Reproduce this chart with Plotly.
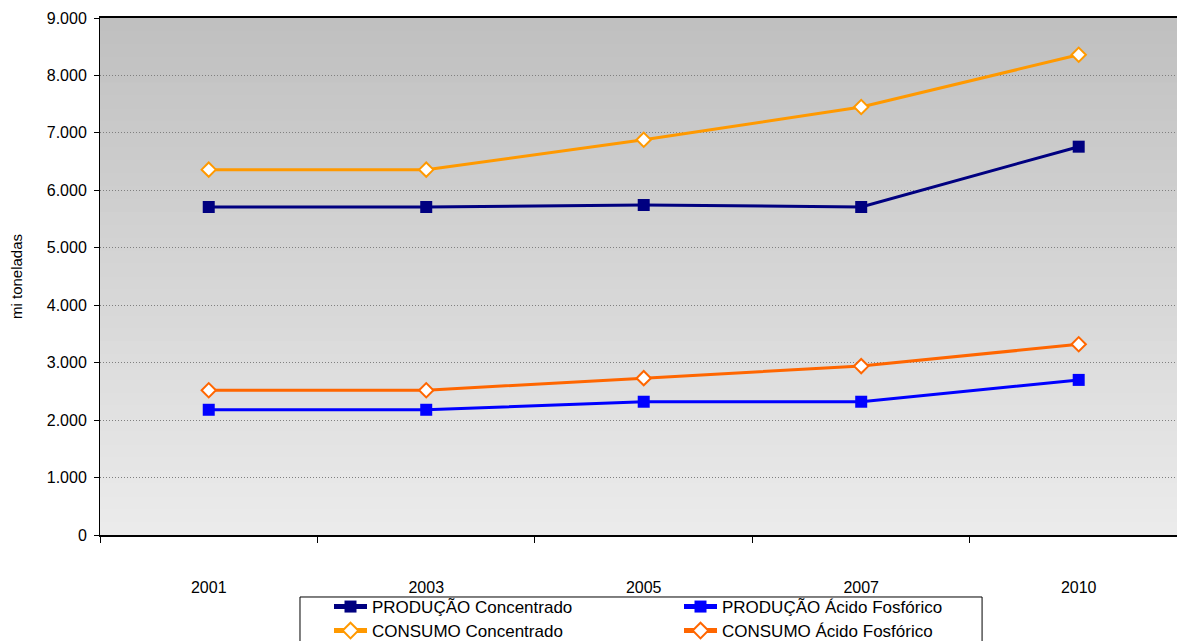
import plotly.graph_objects as go

years = ["2001", "2003", "2005", "2007", "2010"]
prod_conc = [5710, 5710, 5745, 5710, 6760]
cons_conc = [6360, 6360, 6880, 7450, 8360]
prod_acid = [2180, 2180, 2320, 2320, 2700]
cons_acid = [2520, 2520, 2730, 2940, 3320]

yticks = [0, 1000, 2000, 3000, 4000, 5000, 6000, 7000, 8000, 9000]
ytick_text = ["0", "1.000", "2.000", "3.000", "4.000", "5.000", "6.000", "7.000", "8.000", "9.000"]

FONT = "Liberation Sans, Arial, sans-serif"
fig = go.Figure()

def add(name, vals, color, symbol, fill, size, legend):
    fig.add_trace(go.Scatter(
        x=years, y=vals, name=name, mode="lines+markers",
        line=dict(color=color, width=3),
        marker=dict(symbol=symbol, color=fill, size=size,
                    line=dict(color=color, width=2 if fill == "white" else 0)),
        cliponaxis=False, legend=legend,
    ))

add("PRODUÇÃO Concentrado", prod_conc, "#000080", "square", "#000080", 12, "legend")
add("PRODUÇÃO Ácido Fosfórico", prod_acid, "#0000FF", "square", "#0000FF", 12, "legend2")
add("CONSUMO Concentrado", cons_conc, "#FF9900", "diamond", "white", 11, "legend3")
add("CONSUMO Ácido Fosfórico", cons_acid, "#FF6600", "diamond", "white", 11, "legend4")

# vertical gradient background (bands, slightly overlapping to avoid seams)
n = 40
top = (192, 192, 192)
bot = (235, 235, 235)
shapes = []
for i in range(n):
    t = i / (n - 1)
    c = tuple(int(round(top[k] + (bot[k] - top[k]) * t)) for k in range(3))
    shapes.append(dict(type="rect", xref="paper", yref="paper",
                       x0=0, x1=1, y0=max(0, 1 - (i + 1) / n - 0.004), y1=1 - i / n,
                       fillcolor="rgb(%d,%d,%d)" % c, line=dict(width=0),
                       layer="below"))

# legend frame
shapes.append(dict(type="rect", xref="paper", yref="paper",
                   x0=0.1857, x1=0.819, y0=-0.35, y1=-0.1199,
                   fillcolor="white", line=dict(color="black", width=1),
                   layer="below"))

def leg(x, y):
    return dict(orientation="h", x=x, xanchor="left", y=y, yanchor="middle",
                borderwidth=0, bgcolor="rgba(0,0,0,0)",
                font=dict(family=FONT, size=17, color="black"),
                itemsizing="constant", itemwidth=33)

lx1 = (329 - 100) / 1077
lx2 = (679 - 100) / 1077
ly1 = (535 - 607) / 517
ly2 = (535 - 631) / 517

fig.update_layout(
    width=1177, height=641,
    margin=dict(l=100, r=0, t=18, b=106, autoexpand=False),
    paper_bgcolor="white",
    plot_bgcolor="rgba(0,0,0,0)",
    shapes=shapes,
    font=dict(family=FONT, size=16, color="black"),
    showlegend=True,
    legend=leg(lx1, ly1),
    legend2=leg(lx2, ly1),
    legend3=leg(lx1, ly2),
    legend4=leg(lx2, ly2),
    xaxis=dict(
        type="category", range=[-0.5, 4.452],
        tickson="boundaries", ticks="outside", ticklen=6, tickwidth=1, tickcolor="black",
        showline=True, linecolor="black", linewidth=2, mirror=True,
        showgrid=False, tickfont=dict(size=16), ticklabelstandoff=37,
    ),
    yaxis=dict(
        range=[0, 9000], tickvals=yticks, ticktext=ytick_text,
        ticks="outside", ticklen=5, tickcolor="black",
        showline=True, linecolor="black", linewidth=1,
        showgrid=True, gridcolor="#808080", griddash="1px,2px", gridwidth=1,
        zeroline=False, tickfont=dict(size=16), ticklabelstandoff=4,
        title=dict(text="mi toneladas", font=dict(size=15), standoff=20),
    ),
)

fig.write_html("out.html")
